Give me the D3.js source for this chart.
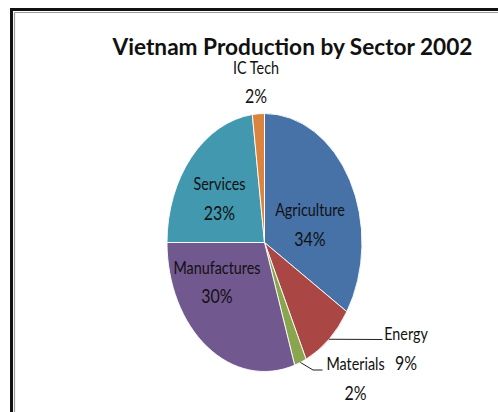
<!DOCTYPE html>
<html>
<head>
<meta charset="utf-8">
<script src="https://cdn.jsdelivr.net/npm/d3@7"></script>
<style>
  html, body { margin: 0; padding: 0; background: #fff; }
  svg { display: block; }
  text { font-family: Lato, "Open Sans", "DejaVu Sans", sans-serif; fill: #111; }
</style>
</head>
<body>
<svg id="chart" width="498" height="412"></svg>
<script>
// Sector shares of Vietnam's production in 2002 (percent)
const categories = ["Agriculture", "Energy", "Materials", "Manufactures", "Services", "IC Tech"];
const shares = [34, 9, 2, 30, 23, 2];
const sliceColors = ["#4672A8", "#AA4643", "#89A54E", "#71588F", "#4198AF", "#DB843D"];
const title = "Vietnam Production by Sector 2002";

const svg = d3.select("#chart");
const W = 498, H = 412;

// Frame: heavy black rule on top and left with a thin grey inner rule
svg.append("rect").attr("x", 10).attr("y", 8).attr("width", W - 10).attr("height", 3).attr("fill", "#111");
svg.append("rect").attr("x", 10).attr("y", 8).attr("width", 3).attr("height", H - 8).attr("fill", "#111");
svg.append("line").attr("x1", 14.5).attr("y1", 12.5).attr("x2", W).attr("y2", 12.5)
  .attr("stroke", "#9a9a9a").attr("stroke-width", 1.2);
svg.append("line").attr("x1", 14.5).attr("y1", 12.5).attr("x2", 14.5).attr("y2", H)
  .attr("stroke", "#9a9a9a").attr("stroke-width", 1.2);

// Title
svg.append("text")
  .attr("x", 112.5).attr("y", 54.5)
  .attr("font-size", 23.3).attr("font-weight", 700)
  .attr("textLength", 360).attr("lengthAdjust", "spacingAndGlyphs")
  .text(title);

// Pie (drawn as an ellipse: unit arcs scaled by rx, ry)
const cx = 264.5, cy = 242.5, rx = 97.5, ry = 129;
const data = categories.map((c, i) => ({ name: c, value: shares[i], color: sliceColors[i] }));
const pie = d3.pie().sort(null).value(d => d.value).startAngle(0).endAngle(2 * Math.PI);
const arcs = pie(data);
const arc = d3.arc().innerRadius(0).outerRadius(1);

const pieG = svg.append("g").attr("transform", `translate(${cx},${cy}) scale(${rx},${ry})`);
pieG.selectAll("path").data(arcs).join("path")
  .attr("d", arc)
  .attr("fill", d => d.data.color)
  .attr("stroke", "#ffffff")
  .attr("stroke-width", 0.9)
  .attr("vector-effect", "non-scaling-stroke");

// Point on the ellipse edge at a slice's mid angle
function edgePoint(a) {
  const m = (a.startAngle + a.endAngle) / 2;
  return [cx + rx * Math.sin(m), cy - ry * Math.cos(m)];
}

// Label placement: centre x and baselines for name and percentage lines
const labelLayout = {
  "Agriculture":  { x: 310,   y1: 216,   y2: 246.5 },
  "Energy":       { x: 406,   y1: 340,   y2: 370, leader: [[382.5, 339.5]] },
  "Materials":    { x: 355.5, y1: 370,   y2: 400, leader: [[313, 370], [322.5, 370]] },
  "Manufactures": { x: 217,   y1: 274,   y2: 303.5 },
  "Services":     { x: 219.5, y1: 190,   y2: 220 },
  "IC Tech":      { x: 256,   y1: 74,    y2: 103 }
};

const condense = 0.82;
arcs.forEach(a => {
  const L = labelLayout[a.data.name];
  if (L.leader) {
    const pts = [edgePoint(a)].concat(L.leader);
    svg.append("path")
      .attr("d", d3.line()(pts))
      .attr("fill", "none").attr("stroke", "#222").attr("stroke-width", 1);
  }
  const g = svg.append("g").attr("transform", `translate(${L.x},0) scale(${condense},1)`);
  g.append("text").attr("x", 0).attr("y", L.y1)
    .attr("text-anchor", "middle").attr("font-size", 17.5)
    .text(a.data.name);
  g.append("text").attr("x", 0).attr("y", L.y2)
    .attr("text-anchor", "middle").attr("font-size", 19.5)
    .text(a.data.value + "%");
});
</script>
</body>
</html>
